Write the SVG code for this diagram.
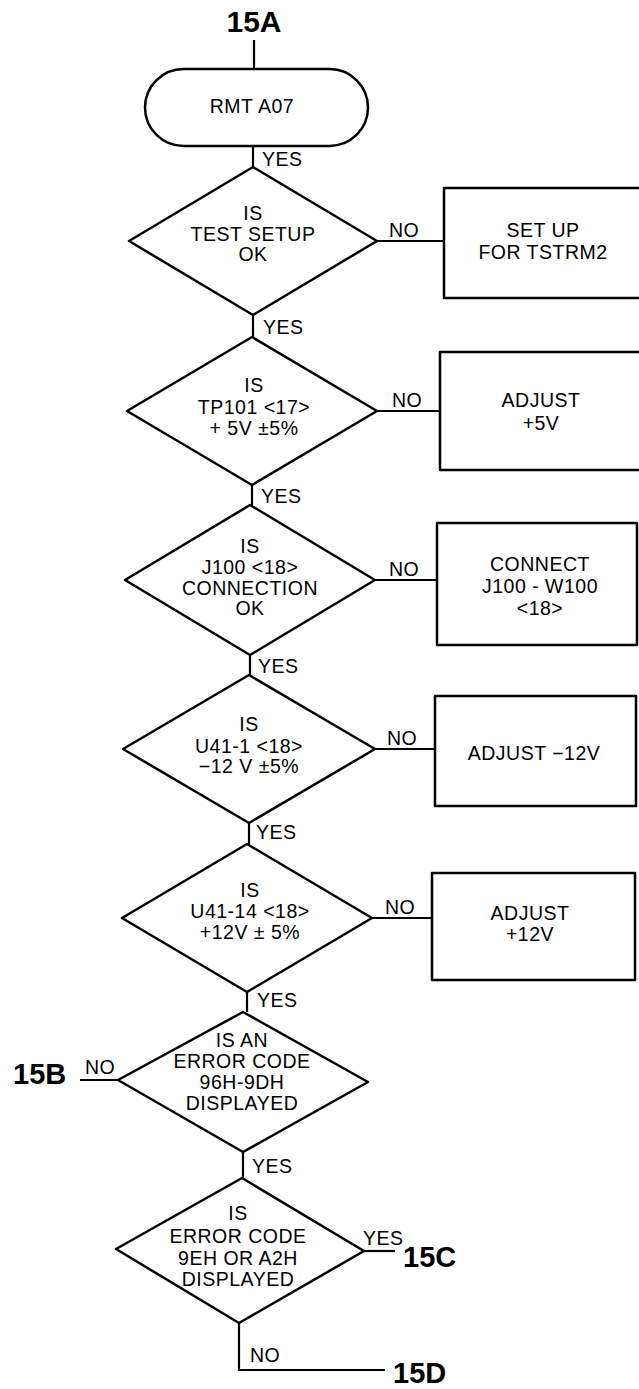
<svg xmlns="http://www.w3.org/2000/svg" width="639" height="1389" viewBox="0 0 639 1389">
<style>
.shape{fill:none;stroke:#000;stroke-width:2.5;stroke-linejoin:round}
.conn{fill:none;stroke:#000;stroke-width:2.2}
text{font-family:"Liberation Sans",Arial,sans-serif;font-size:19.5px;letter-spacing:0.5px;fill:#000}
.c{text-anchor:middle}
.big{font-weight:bold;font-size:29px;letter-spacing:0}
</style>
<rect width="639" height="1389" fill="#fff"/>
<g id="connectors">
<path class="conn" d="M254 40V69"/>
<path class="conn" d="M253 146V167"/>
<path class="conn" d="M253 315V337"/>
<path class="conn" d="M252 485V505"/>
<path class="conn" d="M250 655V675"/>
<path class="conn" d="M249 823V844"/>
<path class="conn" d="M247 992V1012"/>
<path class="conn" d="M243 1152V1178"/>
<path class="conn" d="M377 241H444"/>
<path class="conn" d="M377 411H440"/>
<path class="conn" d="M375 580H437"/>
<path class="conn" d="M375 749H435"/>
<path class="conn" d="M372 918H432"/>
<path class="conn" d="M118 1080H80"/>
<path class="conn" d="M364 1251H395"/>
<path class="conn" d="M239 1323V1370H385"/>
<text x="262" y="166">YES</text>
<text x="263" y="334">YES</text>
<text x="261" y="503">YES</text>
<text x="258" y="673">YES</text>
<text x="256" y="839">YES</text>
<text x="257" y="1007">YES</text>
<text x="252" y="1173">YES</text>
<text x="389" y="237">NO</text>
<text x="392" y="407">NO</text>
<text x="389" y="576">NO</text>
<text x="387" y="745">NO</text>
<text x="385" y="914">NO</text>
<text x="85" y="1074">NO</text>
<text x="363" y="1245">YES</text>
<text x="250" y="1362">NO</text>
</g>
<g id="n15A"><text class="big c" x="254" y="32" style="font-size:30px">15A</text></g>
<g id="start">
<rect class="shape" x="145" y="69" width="223" height="77" rx="38.5"/>
<text class="c" x="252" y="113">RMT A07</text>
</g>
<g id="d1">
<polygon class="shape" points="253,167 377,241 253,315 129,241"/>
<text class="c" x="253" y="220">IS</text>
<text class="c" x="253" y="241">TEST SETUP</text>
<text class="c" x="253" y="261">OK</text>
</g>
<g id="b1">
<rect class="shape" x="444" y="188" width="200" height="110"/>
<text class="c" x="543" y="237">SET UP</text>
<text class="c" x="543" y="259">FOR TSTRM2</text>
</g>
<g id="d2">
<polygon class="shape" points="252,337 377,411 252,485 127,411"/>
<text class="c" x="254" y="392">IS</text>
<text class="c" x="254" y="414">TP101 &lt;17&gt;</text>
<text class="c" x="254" y="435">+ 5V ±5%</text>
</g>
<g id="b2">
<rect class="shape" x="440" y="352" width="204" height="118"/>
<text class="c" x="541" y="407">ADJUST</text>
<text class="c" x="541" y="430">+5V</text>
</g>
<g id="d3">
<polygon class="shape" points="250,505 375,580 250,655 125,580"/>
<text class="c" x="250" y="553">IS</text>
<text class="c" x="250" y="574">J100 &lt;18&gt;</text>
<text class="c" x="250" y="595">CONNECTION</text>
<text class="c" x="250" y="615">OK</text>
</g>
<g id="b3">
<rect class="shape" x="437" y="523" width="200" height="122"/>
<text class="c" x="540" y="571">CONNECT</text>
<text class="c" x="540" y="593">J100 - W100</text>
<text class="c" x="540" y="615">&lt;18&gt;</text>
</g>
<g id="d4">
<polygon class="shape" points="249,675 375,749 249,823 123,749"/>
<text class="c" x="249" y="731">IS</text>
<text class="c" x="249" y="753">U41-1 &lt;18&gt;</text>
<text class="c" x="249" y="773">−12 V ±5%</text>
</g>
<g id="b4">
<rect class="shape" x="435" y="696" width="201" height="110"/>
<text class="c" x="534" y="760">ADJUST −12V</text>
</g>
<g id="d5">
<polygon class="shape" points="247,844 372,918 247,992 122,918"/>
<text class="c" x="250" y="897">IS</text>
<text class="c" x="250" y="918">U41-14 &lt;18&gt;</text>
<text class="c" x="250" y="939">+12V ± 5%</text>
</g>
<g id="b5">
<rect class="shape" x="432" y="873" width="203" height="107"/>
<text class="c" x="530" y="920">ADJUST</text>
<text class="c" x="530" y="941">+12V</text>
</g>
<g id="d6">
<polygon class="shape" points="243,1012 368,1082 243,1152 118,1080"/>
<text class="c" x="242" y="1047">IS AN</text>
<text class="c" x="242" y="1068">ERROR CODE</text>
<text class="c" x="242" y="1089">96H-9DH</text>
<text class="c" x="242" y="1110">DISPLAYED</text>
</g>
<g id="n15B"><text class="big" x="13" y="1084">15B</text></g>
<g id="d7">
<polygon class="shape" points="242,1178 364,1251 239,1323 116,1249"/>
<text class="c" x="238" y="1220">IS</text>
<text class="c" x="238" y="1243">ERROR CODE</text>
<text class="c" x="238" y="1265">9EH OR A2H</text>
<text class="c" x="238" y="1286">DISPLAYED</text>
</g>
<g id="n15C"><text class="big" x="403" y="1267">15C</text></g>
<g id="n15D"><text class="big" x="393" y="1383">15D</text></g>
</svg>
